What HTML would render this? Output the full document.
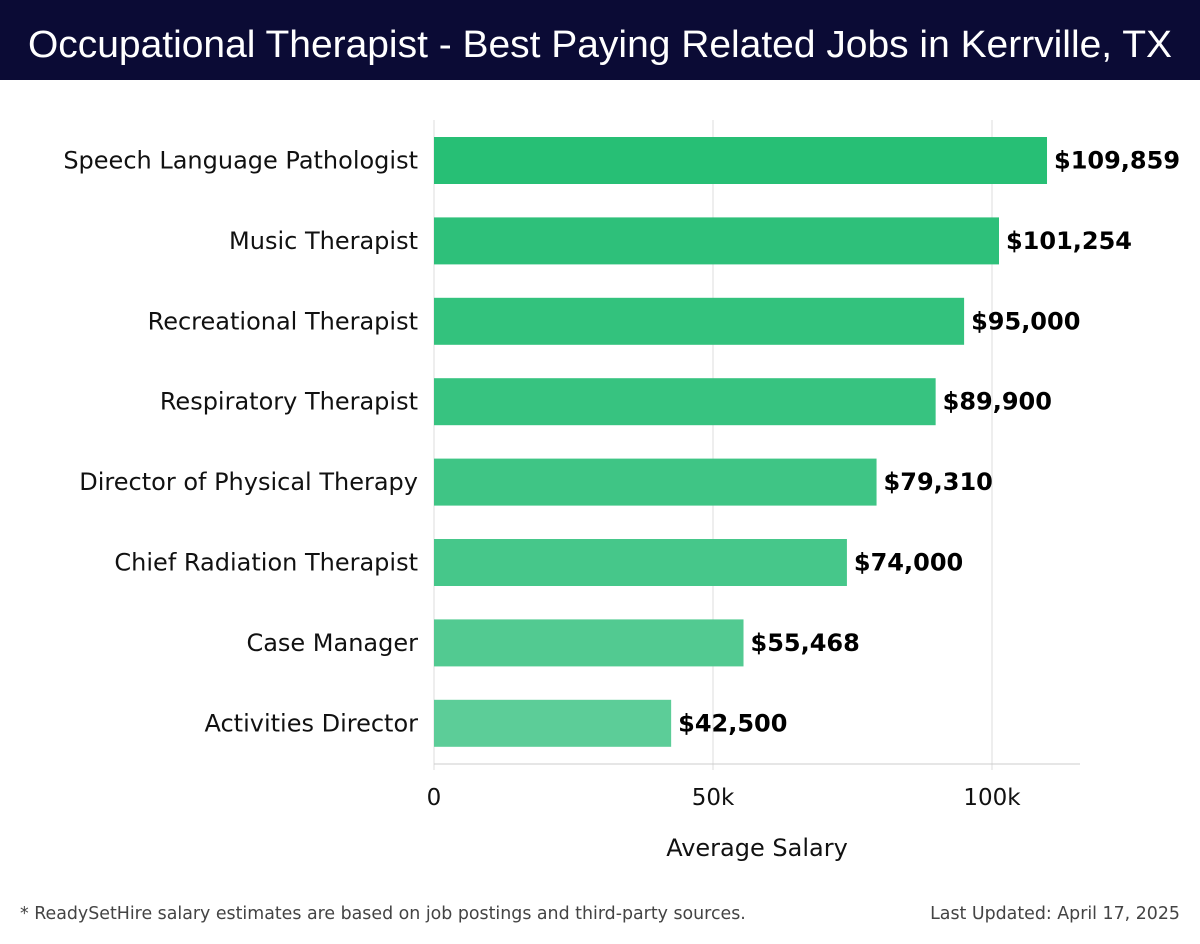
<!DOCTYPE html>
<html><head><meta charset="utf-8"><style>
body{margin:0;width:1200px;height:940px;background:#fff;overflow:hidden;font-family:"DejaVu Sans","Liberation Sans",sans-serif}
</style></head><body>
<svg id="chart" width="1200" height="940">
<rect x="0" y="0" width="1200" height="80" fill="#0b0b35"/>
<text x="600" y="57" text-anchor="middle" fill="#fff" font-family="Liberation Sans, sans-serif" font-size="38" font-weight="300" textLength="1144" lengthAdjust="spacingAndGlyphs">Occupational Therapist - Best Paying Related Jobs in Kerrville, TX</text>
<g id="grid"></g><g id="bars"></g>
<text x="757" y="856" text-anchor="middle" font-size="24" fill="#111">Average Salary</text>
<text x="20" y="919" font-size="17.4" fill="#444">* ReadySetHire salary estimates are based on job postings and third-party sources.</text>
<text x="1180" y="919" text-anchor="end" font-size="17.4" fill="#444">Last Updated: April 17, 2025</text>
</svg>
<script>
const categories=["Speech Language Pathologist","Music Therapist","Recreational Therapist","Respiratory Therapist","Director of Physical Therapy","Chief Radiation Therapist","Case Manager","Activities Director"];
const values=[109859,101254,95000,89900,79310,74000,55468,42500];
const labels=["$109,859","$101,254","$95,000","$89,900","$79,310","$74,000","$55,468","$42,500"];
const ticks=[0,50000,100000];
const tickLabels=["0","50k","100k"];
const NS="http://www.w3.org/2000/svg";
const x=v=>434+v*(558/100000);
const yc=i=>160.5+i*80.4;
const colors=["#27bf75","#2ec07a","#33c27d","#37c380","#3fc585","#46c78a","#52ca91","#5ccd98"];
function mk(t,a,p){const e=document.createElementNS(NS,t);for(const k in a)e.setAttribute(k,a[k]);p.appendChild(e);return e;}
const grid=document.getElementById('grid'),bars=document.getElementById('bars');
ticks.forEach((t,i)=>{
 const g=mk('line',{x1:x(t),x2:x(t),y1:120,y2:770,stroke:'#ddd','stroke-width':1},grid);
 
 
 const tl=mk('text',{x:x(t),y:805,'text-anchor':'middle','font-size':23,fill:'#111'},grid);
 tl.textContent=tickLabels[i];
 
 
});
const ax=mk('line',{x1:434,x2:1080,y1:764,y2:764,stroke:'#ccc','stroke-width':1},grid);


categories.forEach((c,i)=>{
 const r=mk('rect',{x:x(0),y:yc(i)-23.5,width:x(values[i])-x(0),height:47,fill:colors[i]},bars);
 
 
 const l=mk('text',{x:418,y:yc(i)+8,'text-anchor':'end','font-size':24,fill:'#111'},bars);
 l.textContent=c;
 
 
 const v=mk('text',{x:x(values[i])+7,y:yc(i)+8,'font-size':24,'font-weight':'bold',fill:'#000'},bars);
 v.textContent=labels[i];
 
 
});
</script>
</body></html>
